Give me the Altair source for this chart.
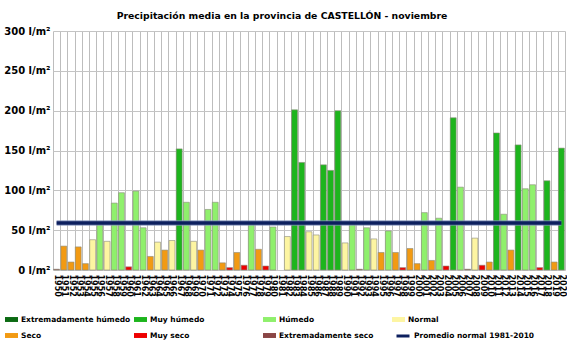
import altair as alt
import pandas as pd

years = [str(y) for y in range(1950, 2021)]
values = [1, 30, 10, 29, 8, 38, 57, 36, 84, 97,
          4, 99, 53, 17, 35, 25, 37, 152, 85, 36,
          25, 76, 85, 9, 3, 22, 6, 57, 26, 5,
          54, None, 42, 201, 135, 48, 44, 132, 125, 200,
          34, 57, 1, 53, 39, 22, 49, 22, 3, 27,
          8, 72, 12, 65, 5, 191, 104, 1, 40, 6,
          10, 172, 70, 25, 157, 102, 107, 3, 112, 10,
          153]
cat_codes = ["ES", "S", "S", "S", "S", "N", "H", "N", "H", "H",
             "MS", "H", "H", "S", "N", "S", "N", "MH", "H", "N",
             "S", "H", "H", "S", "MS", "S", "MS", "H", "S", "MS",
             "H", None, "N", "MH", "MH", "N", "N", "MH", "MH", "MH",
             "N", "H", "ES", "H", "N", "S", "H", "S", "MS", "S",
             "S", "H", "S", "H", "MS", "MH", "H", "ES", "N", "MS",
             "S", "MH", "H", "S", "MH", "H", "H", "MS", "MH", "S",
             "MH"]
code_names = {"EH": "Extremadamente húmedo", "MH": "Muy húmedo", "H": "Húmedo",
              "N": "Normal", "S": "Seco", "MS": "Muy seco", "ES": "Extremadamente seco"}
cat_order = ["Extremadamente húmedo", "Muy húmedo", "Húmedo", "Normal",
             "Seco", "Muy seco", "Extremadamente seco"]
cat_colors = ["#0b6a12", "#1db51d", "#8ff06c", "#fdf5a2",
              "#f29a12", "#ee0000", "#8a4545"]
avg_value = 59
avg_label = "Promedio normal 1981-2010"
y_ticks = [0, 50, 100, 150, 200, 250, 300]
title_text = "Precipitación media en la provincia de CASTELLÓN - noviembre"

FONT = "DejaVu Sans"

df = pd.DataFrame({"year": years, "value": values,
                   "cat": [code_names[c] if c else None for c in cat_codes]})
df = df.dropna()

avg_df = pd.DataFrame({"year": [years[0]], "year2": [years[-1]], "value": [avg_value],
                       "label": [avg_label]})

xscale = alt.Scale(domain=years, paddingInner=0, paddingOuter=0)
yscale = alt.Scale(domain=[0, 300], nice=False)

X = alt.X("year:O", scale=xscale, title=None,
          axis=alt.Axis(labelAngle=90, labelFontSize=8, labelFont=FONT, labelFontWeight="bold",
                        labelColor="#000", labelPadding=4, ticks=False, domain=False,
                        grid=True, gridColor="#bdbdbd", gridWidth=1, tickBand="extent",
                        labelOverlap=False))
Y = alt.Y("value:Q", scale=yscale, title=None,
          axis=alt.Axis(values=y_ticks, labelExpr="datum.value + ' l/m²'", labelFontSize=10,
                        labelFont=FONT, labelFontWeight="bold", labelColor="#000",
                        labelPadding=3, ticks=False, domain=False, grid=True,
                        gridColor="#c4c4c4", gridWidth=1, labelOverlap=False))

bars = alt.Chart(df).mark_bar(
    width=alt.RelativeBandSize(0.82), stroke="#8c8c7a", strokeWidth=0.6
).encode(
    x=X, y=Y,
    fill=alt.Fill("cat:N", scale=alt.Scale(domain=cat_order, range=cat_colors),
                  legend=alt.Legend(title=None, orient="none", legendX=-48, legendY=282,
                                    direction="horizontal",
                                    columns=4, gridAlign="all", columnPadding=3, rowPadding=6,
                                    symbolType="M-1,-0.38H1V0.38H-1Z", symbolSize=169,
                                    symbolStrokeWidth=0, labelFont=FONT, labelFontWeight="bold",
                                    labelFontSize=7.5, labelColor="#000", labelOffset=3,
                                    labelLimit=200)),
)

halo = alt.Chart(avg_df).mark_rule(strokeWidth=5.5, color="#7d8fb8", opacity=0.8).encode(
    x=X, x2="year2", y=Y
)
avg = alt.Chart(avg_df).mark_rule(strokeWidth=3.5).encode(
    x=X, x2="year2", y=Y,
    stroke=alt.Stroke("label:N", scale=alt.Scale(range=["#0c1f5e"]),
                      legend=alt.Legend(title=None, orient="none", legendX=342, legendY=297,
                                        symbolType="stroke", symbolSize=169, symbolStrokeWidth=3,
                                        labelFont=FONT, labelFontWeight="bold", labelFontSize=7.5,
                                        labelColor="#000", labelOffset=3, labelLimit=200)),
)

chart = alt.layer(bars, halo, avg).properties(
    width=512, height=239,
    autosize=alt.AutoSizeParams(type="none"),
    padding={"left": 53, "top": 31, "right": 2, "bottom": 71},
    title=alt.TitleParams(title_text, font=FONT, fontSize=9.3, fontWeight="bold", color="#000",
                          anchor="middle", frame="group", dx=-27, offset=5),
    background="white",
).configure_view(strokeWidth=0)

chart.save("out.html", embed_options={"renderer": "svg", "actions": False})
